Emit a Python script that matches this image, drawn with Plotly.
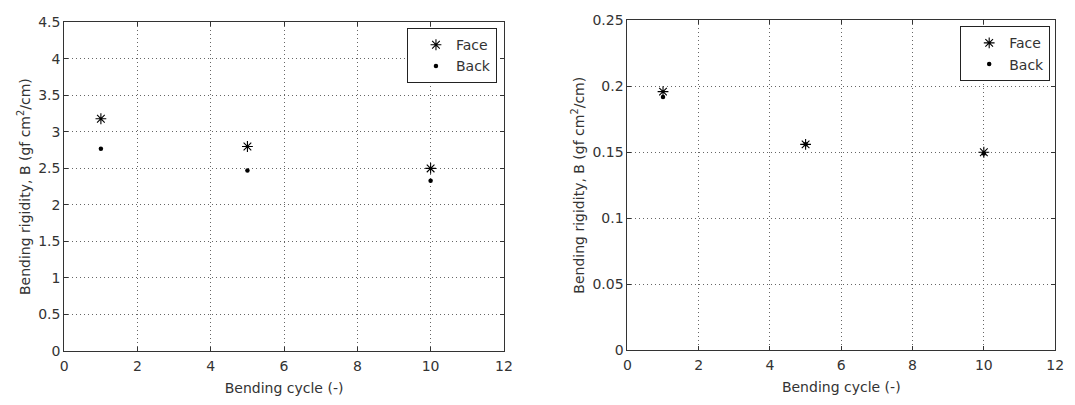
import plotly.graph_objects as go

cycles = [1, 5, 10]
left_face = [3.18, 2.80, 2.50]
left_back = [2.77, 2.47, 2.33]
right_face = [0.196, 0.156, 0.150]
right_back = [0.192, 0.156, 0.149]

x_ticks = [0, 2, 4, 6, 8, 10, 12]
left_yticks = [0, 0.5, 1, 1.5, 2, 2.5, 3, 3.5, 4, 4.5]
right_yticks = [0, 0.05, 0.1, 0.15, 0.2, 0.25]

W, H = 1075, 405
FONT = "DejaVu Sans, Arial, sans-serif"
TXT = "#333333"

fig = go.Figure()

face_marker = dict(symbol="asterisk-open", size=9, color="black", line=dict(width=1.1, color="black"))
back_marker = dict(symbol="circle", size=4.5, color="black")

fig.add_trace(go.Scatter(x=cycles, y=left_face, mode="markers", name="Face", marker=face_marker,
                         xaxis="x", yaxis="y", legend="legend"))
fig.add_trace(go.Scatter(x=cycles, y=left_back, mode="markers", name="Back", marker=back_marker,
                         xaxis="x", yaxis="y", legend="legend"))
fig.add_trace(go.Scatter(x=cycles, y=right_face, mode="markers", name="Face", marker=face_marker,
                         xaxis="x2", yaxis="y2", legend="legend2"))
fig.add_trace(go.Scatter(x=cycles, y=right_back, mode="markers", name="Back", marker=back_marker,
                         xaxis="x2", yaxis="y2", legend="legend2"))

axis_common = dict(
    showline=True, mirror="ticks", linecolor="#333", linewidth=1,
    ticks="inside", ticklen=4, tickcolor="#333",
    showgrid=True, gridcolor="#666", griddash="1px,3px", gridwidth=1,
    zeroline=False, tickfont=dict(family=FONT, size=14, color=TXT),
)

title_font = dict(family=FONT, size=14, color=TXT)

legend_common = dict(
    xanchor="right", yanchor="top",
    bgcolor="white", bordercolor="#222", borderwidth=1,
    font=dict(family=FONT, size=14, color=TXT), tracegroupgap=0,
    itemwidth=30, indentation=8,
)

fig.update_layout(
    width=W, height=H,
    margin=dict(l=0, r=0, t=0, b=0),
    paper_bgcolor="white", plot_bgcolor="white",
    showlegend=True,
    font=dict(family=FONT, size=14, color=TXT),
    xaxis=dict(axis_common, domain=[61 / W, 506 / W], range=[0, 12], tickvals=x_ticks,
               anchor="y", ticklabelstandoff=2,
               title=dict(text="Bending cycle (-)", font=title_font, standoff=10)),
    yaxis=dict(axis_common, domain=[(H - 357) / H, (H - 15) / H], range=[0, 4.5],
               tickvals=left_yticks, ticktext=[f"{v:g}" for v in left_yticks], anchor="x",
               title=dict(text="Bending rigidity, B (gf cm<sup>2</sup>/cm)", font=title_font, standoff=4)),
    xaxis2=dict(axis_common, domain=[631 / W, 1064 / W], range=[0, 12], tickvals=x_ticks,
                anchor="y2", ticklabelstandoff=2,
                title=dict(text="Bending cycle (-)", font=title_font, standoff=10)),
    yaxis2=dict(axis_common, domain=[(H - 356) / H, (H - 13) / H], range=[0, 0.25],
                tickvals=right_yticks, ticktext=[f"{v:g}" for v in right_yticks], anchor="x2",
                title=dict(text="Bending rigidity, B (gf cm<sup>2</sup>/cm)", font=title_font, standoff=4)),
    legend=dict(legend_common, x=499 / W, y=1 - 21 / H),
    legend2=dict(legend_common, x=1059 / W, y=1 - 19 / H),
)

fig.write_html("out.html")
